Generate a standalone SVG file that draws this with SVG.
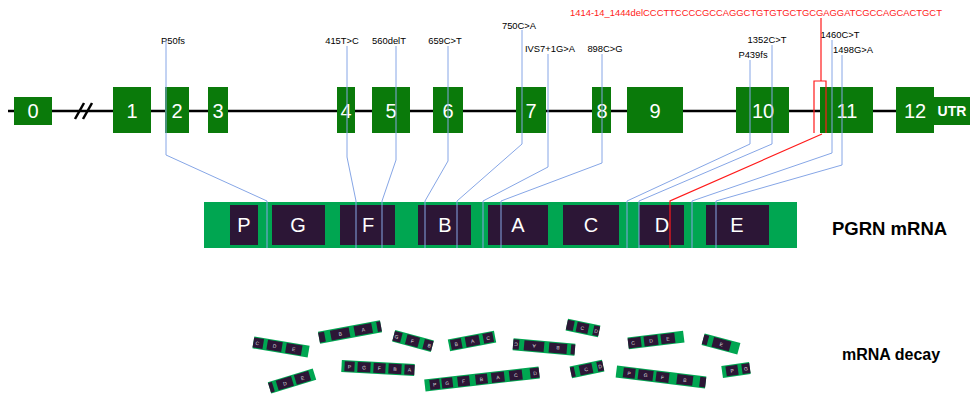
<svg xmlns="http://www.w3.org/2000/svg" width="972" height="397" viewBox="0 0 972 397">
<defs>
<style>
.exon{fill:#0a7a0a}
.en{font-family:"Liberation Sans",Arial,sans-serif;font-size:20px;fill:#fff;text-anchor:middle}
.lbl{font-family:"Liberation Sans",Arial,sans-serif;font-size:9.4px;fill:#000;text-anchor:middle}
.red{font-family:"Liberation Sans",Arial,sans-serif;font-size:9.4px;fill:#ff1a1a;text-anchor:middle}
.bar{fill:#00a651}
.dk{fill:#2c1636}
.ml{font-family:"Liberation Sans",Arial,sans-serif;font-size:20px;fill:#fff;text-anchor:middle}
.title{font-family:"Liberation Sans",Arial,sans-serif;font-weight:bold;fill:#000}
.fl{font-family:"Liberation Sans",Arial,sans-serif;font-size:5px;fill:#ddd;text-anchor:middle}
.blue{fill:none;stroke:#86a6e6;stroke-width:1}
.redl{fill:none;stroke:#ff1a1a;stroke-width:1.2}
</style>
</defs>
<rect width="972" height="397" fill="#fff"/>

<g id="gene">
<line x1="8" y1="111" x2="896" y2="111" stroke="#000" stroke-width="2.5"/>
<line x1="75" y1="119" x2="84" y2="103" stroke="#000" stroke-width="2.5"/>
<line x1="83" y1="119" x2="92" y2="103" stroke="#000" stroke-width="2.5"/>
</g>

<g id="exon0"><rect class="exon" x="14" y="97" width="38" height="28"/><text class="en" x="33" y="118">0</text></g>
<g id="exon1"><rect class="exon" x="113" y="87" width="38" height="46"/><text class="en" x="132" y="118">1</text></g>
<g id="exon2"><rect class="exon" x="165" y="87" width="24" height="46"/><text class="en" x="177" y="118">2</text></g>
<g id="exon3"><rect class="exon" x="208" y="87" width="20" height="46"/><text class="en" x="218" y="118">3</text></g>
<g id="exon4"><rect class="exon" x="337" y="87" width="18" height="46"/><text class="en" x="346" y="118">4</text></g>
<g id="exon5"><rect class="exon" x="372" y="87" width="38" height="46"/><text class="en" x="391" y="118">5</text></g>
<g id="exon6"><rect class="exon" x="433" y="87" width="30" height="46"/><text class="en" x="448" y="118">6</text></g>
<g id="exon7"><rect class="exon" x="516" y="87" width="30" height="46"/><text class="en" x="531" y="118">7</text></g>
<g id="exon8"><rect class="exon" x="592" y="87" width="19" height="46"/><text class="en" x="602" y="118">8</text></g>
<g id="exon9"><rect class="exon" x="627" y="87" width="56" height="46"/><text class="en" x="655" y="118">9</text></g>
<g id="exon10"><rect class="exon" x="736" y="87" width="53" height="46"/><text class="en" x="763" y="118">10</text></g>
<g id="exon11"><rect class="exon" x="820" y="87" width="53" height="46"/><text class="en" x="847" y="118">11</text></g>
<g id="exon12"><rect class="exon" x="896" y="87" width="38" height="46"/><text class="en" x="915" y="118">12</text></g>
<g id="utr"><rect class="exon" x="934" y="97" width="36" height="28"/><text x="952" y="116" font-family="Liberation Sans, Arial, sans-serif" font-size="14" font-weight="bold" fill="#fff" text-anchor="middle">UTR</text></g>

<g id="mutation-labels">
<text class="lbl" x="173" y="44">P50fs</text>
<text class="lbl" x="342" y="44">415T&gt;C</text>
<text class="lbl" x="389" y="44">560delT</text>
<text class="lbl" x="445" y="44">659C&gt;T</text>
<text class="lbl" x="519" y="29">750C&gt;A</text>
<text class="lbl" x="550" y="52">IVS7+1G&gt;A</text>
<text class="lbl" x="605" y="52">898C&gt;G</text>
<text class="lbl" x="767" y="43">1352C&gt;T</text>
<text class="lbl" x="753" y="58">P439fs</text>
<text class="lbl" x="840" y="38">1460C&gt;T</text>
<text class="lbl" x="853" y="53">1498G&gt;A</text>
<text class="red" x="756" y="16">1414-14_1444delCCCTTCCCCGCCAGGCTGTGTGCTGCGAGGATCGCCAGCACTGCT</text>
</g>

<g id="pgrn-mrna">
<rect class="bar" x="204" y="202" width="593" height="46"/>
<rect class="dk" x="230" y="205" width="28" height="40"/><text class="ml" x="244" y="232">P</text>
<rect class="dk" x="272" y="205" width="53" height="40"/><text class="ml" x="298" y="232">G</text>
<rect class="dk" x="340" y="205" width="55" height="40"/><text class="ml" x="368" y="232">F</text>
<rect class="dk" x="418" y="205" width="53" height="40"/><text class="ml" x="445" y="232">B</text>
<rect class="dk" x="488" y="205" width="60" height="40"/><text class="ml" x="518" y="232">A</text>
<rect class="dk" x="563" y="205" width="56" height="40"/><text class="ml" x="591" y="232">C</text>
<rect class="dk" x="639" y="205" width="45" height="40"/><text class="ml" x="662" y="232">D</text>
<rect class="dk" x="706" y="205" width="63" height="40"/><text class="ml" x="737" y="232">E</text>
<text class="title" x="832" y="235" font-size="18.5">PGRN mRNA</text>
</g>

<g id="connectors">
<path class="blue" d="M166,40 V155 L267,201 V248"/>
<path class="blue" d="M347,46 V157 L356,201 V248"/>
<path class="blue" d="M396,46 V160 L382,201 V248"/>
<path class="blue" d="M448,46 V161 L425,201 V248"/>
<path class="blue" d="M522,30 V144 L457,201 V248"/>
<path class="blue" d="M548,54 V167 L483,201 V248"/>
<path class="blue" d="M602,54 V163 L501,201 V248"/>
<path class="blue" d="M750,60 V144 L627,201 V248"/>
<path class="blue" d="M772,45 V144 L639,201 V248"/>
<path class="blue" d="M832,40 V153 L692,201 V248"/>
<path class="blue" d="M842,55 V165 L716,201 V248"/>
<path class="redl" d="M821,18 V81"/>
<path class="redl" d="M814,133 V81 H826 V133"/>
<path class="redl" d="M822,134 L670,201 V248"/>
</g>

<g id="decay-fragments">
<g transform="translate(281,347) rotate(9.5) translate(-28,-6)">
<rect class="bar" width="56" height="12"/>
<rect class="dk" x="0" y="1" width="10" height="10"/><text class="fl" x="4" y="8">C</text>
<rect class="dk" x="14" y="1" width="15" height="10"/><text class="fl" x="21.5" y="8">D</text>
<rect class="dk" x="33" y="1" width="16" height="10"/><text class="fl" x="41" y="8">E</text>
</g>
<g transform="translate(350,332) rotate(-10.5) translate(-31.5,-6)">
<rect class="bar" width="63" height="12"/>
<rect class="dk" x="0" y="1" width="6" height="10"/>
<rect class="dk" x="12" y="1" width="19" height="10"/><text class="fl" x="21.5" y="8">B</text>
<rect class="dk" x="36" y="1" width="18" height="10"/><text class="fl" x="45" y="8">A</text>
<rect class="dk" x="59" y="1" width="4" height="10"/>
</g>
<g transform="translate(413,341) rotate(15) translate(-20,-6)">
<rect class="bar" width="40" height="12"/>
<rect class="dk" x="0" y="1" width="8" height="10"/><text class="fl" x="3" y="8">G</text>
<rect class="dk" x="13" y="1" width="13" height="10"/><text class="fl" x="19.5" y="8">F</text>
<rect class="dk" x="31" y="1" width="9" height="10"/><text class="fl" x="37" y="8">B</text>
</g>
<g transform="translate(472,341) rotate(-11) translate(-23.5,-6)">
<rect class="bar" width="47" height="12"/>
<rect class="dk" x="2" y="1" width="11" height="10"/><text class="fl" x="7.5" y="8">B</text>
<rect class="dk" x="17" y="1" width="14" height="10"/><text class="fl" x="24" y="8">A</text>
<rect class="dk" x="35" y="1" width="10" height="10"/><text class="fl" x="40" y="8">C</text>
</g>
<g transform="translate(292,381) rotate(-17) translate(-23.5,-6)">
<rect class="bar" width="47" height="12"/>
<rect class="dk" x="0" y="1" width="4" height="10"/>
<rect class="dk" x="8" y="1" width="16" height="10"/><text class="fl" x="16" y="8">D</text>
<rect class="dk" x="27" y="1" width="15" height="10"/><text class="fl" x="34.5" y="8">E</text>
</g>
<g transform="translate(378,368) rotate(3) translate(-36.5,-6)">
<rect class="bar" width="73" height="12"/>
<rect class="dk" x="3" y="1" width="10" height="10"/><text class="fl" x="8" y="8">P</text>
<rect class="dk" x="16" y="1" width="13" height="10"/><text class="fl" x="22.5" y="8">G</text>
<rect class="dk" x="32" y="1" width="12" height="10"/><text class="fl" x="38" y="8">F</text>
<rect class="dk" x="47" y="1" width="13" height="10"/><text class="fl" x="53.5" y="8">B</text>
<rect class="dk" x="63" y="1" width="10" height="10"/><text class="fl" x="68" y="8">A</text>
</g>
<g transform="translate(482,379) rotate(-6.5) translate(-57.5,-6)">
<rect class="bar" width="115" height="12"/>
<rect class="dk" x="5" y="1" width="10" height="10"/><text class="fl" x="10" y="8">P</text>
<rect class="dk" x="17" y="1" width="11" height="10"/><text class="fl" x="22.5" y="8">G</text>
<rect class="dk" x="33" y="1" width="12" height="10"/><text class="fl" x="39" y="8">F</text>
<rect class="dk" x="51" y="1" width="12" height="10"/><text class="fl" x="57" y="8">B</text>
<rect class="dk" x="67" y="1" width="13" height="10"/><text class="fl" x="73.5" y="8">A</text>
<rect class="dk" x="85" y="1" width="13" height="10"/><text class="fl" x="91.5" y="8">C</text>
<rect class="dk" x="106" y="1" width="9" height="10"/><text class="fl" x="111" y="8">D</text>
</g>
<g transform="translate(544,347) rotate(185) translate(-31,-6)">
<rect class="bar" width="62" height="12"/>
<rect class="dk" x="0" y="1" width="4" height="10"/>
<rect class="dk" x="8" y="1" width="18" height="10"/><text class="fl" x="17" y="8">B</text>
<rect class="dk" x="31" y="1" width="20" height="10"/><text class="fl" x="41" y="8">A</text>
<rect class="dk" x="56" y="1" width="6" height="10"/><text class="fl" x="59" y="8">C</text>
</g>
<g transform="translate(583,328) rotate(12) translate(-16.5,-6)">
<rect class="bar" width="33" height="12"/>
<rect class="dk" x="0" y="1" width="7" height="10"/>
<rect class="dk" x="10" y="1" width="12" height="10"/><text class="fl" x="16" y="8">C</text>
<rect class="dk" x="27" y="1" width="6" height="10"/><text class="fl" x="30" y="8">D</text>
</g>
<g transform="translate(587,369) rotate(-12) translate(-16.5,-6)">
<rect class="bar" width="33" height="12"/>
<rect class="dk" x="0" y="1" width="4" height="10"/>
<rect class="dk" x="9" y="1" width="13" height="10"/><text class="fl" x="15.5" y="8">C</text>
<rect class="dk" x="27" y="1" width="6" height="10"/><text class="fl" x="30" y="8">D</text>
</g>
<g transform="translate(656,340) rotate(-7) translate(-28,-6)">
<rect class="bar" width="56" height="12"/>
<rect class="dk" x="0" y="1" width="13" height="10"/><text class="fl" x="5" y="8">C</text>
<rect class="dk" x="16" y="1" width="14" height="10"/><text class="fl" x="23" y="8">D</text>
<rect class="dk" x="33" y="1" width="14" height="10"/><text class="fl" x="40" y="8">E</text>
</g>
<g transform="translate(661,377) rotate(7) translate(-45,-6)">
<rect class="bar" width="90" height="12"/>
<rect class="dk" x="7" y="1" width="12" height="10"/><text class="fl" x="13" y="8">P</text>
<rect class="dk" x="22" y="1" width="15" height="10"/><text class="fl" x="29.5" y="8">G</text>
<rect class="dk" x="40" y="1" width="13" height="10"/><text class="fl" x="46.5" y="8">F</text>
<rect class="dk" x="61" y="1" width="16" height="10"/><text class="fl" x="69" y="8">B</text>
<rect class="dk" x="84" y="1" width="6" height="10"/>
</g>
<g transform="translate(721,344) rotate(15) translate(-18.5,-6)">
<rect class="bar" width="37" height="12"/>
<rect class="dk" x="0" y="1" width="5" height="10"/>
<rect class="dk" x="10" y="1" width="18" height="10"/><text class="fl" x="19" y="8">E</text>
</g>
<g transform="translate(736,370) rotate(-8) translate(-14,-6)">
<rect class="bar" width="28" height="12"/>
<rect class="dk" x="4" y="1" width="12" height="10"/><text class="fl" x="10" y="8">P</text>
<rect class="dk" x="20" y="1" width="8" height="10"/><text class="fl" x="24" y="8">G</text>
</g>
<text class="title" x="842" y="360" font-size="16">mRNA decay</text>
</g>
</svg>
